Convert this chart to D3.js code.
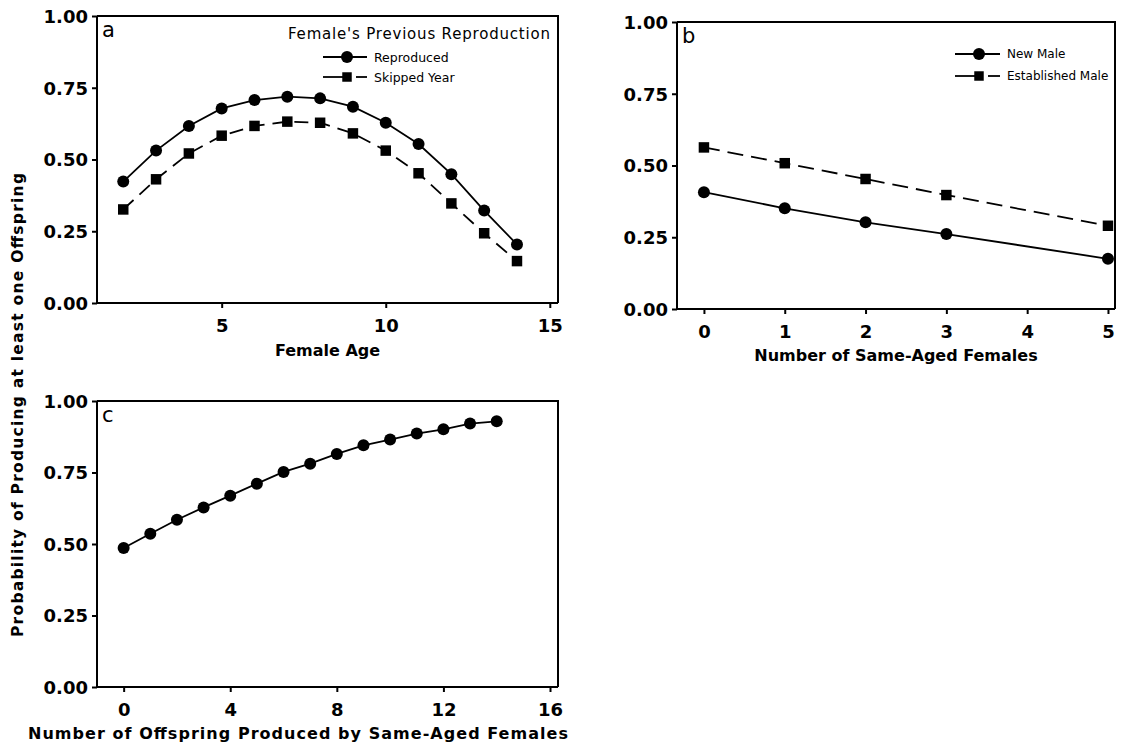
<!DOCTYPE html>
<html>
<head>
<meta charset="utf-8">
<script src="https://cdn.jsdelivr.net/npm/d3@7"></script>
<style>
  html, body { margin: 0; padding: 0; background: #fff; }
  svg { display: block; }
  text { font-family: "DejaVu Sans", Verdana, sans-serif; fill: #000; }
</style>
</head>
<body>
<svg id="chart" width="1123" height="744"></svg>
<script>
// ---- data ----
// Panel a: probability by female age, split by previous-year reproduction
const ageValues = [2, 3, 4, 5, 6, 7, 8, 9, 10, 11, 12, 13, 14];
const reproduced = [0.423, 0.531, 0.617, 0.678, 0.707, 0.719, 0.713, 0.684, 0.628, 0.554, 0.449, 0.322, 0.204];
const skippedYear = [0.326, 0.431, 0.521, 0.583, 0.617, 0.632, 0.628, 0.591, 0.531, 0.452, 0.347, 0.243, 0.146];
const ageTicks = [5, 10, 15];

// Panel b: probability by number of same-aged females, by male status
const femaleCounts = [0, 1, 2, 3, 5];
const newMale = [0.407, 0.351, 0.302, 0.261, 0.175];
const establishedMale = [0.563, 0.508, 0.453, 0.397, 0.290];
const femaleCountTicks = [0, 1, 2, 3, 4, 5];

// Panel c: probability by offspring produced by same-aged females
const offspringCounts = [0, 1, 2, 3, 4, 5, 6, 7, 8, 9, 10, 11, 12, 13, 14];
const offspringProb = [0.486, 0.536, 0.585, 0.628, 0.669, 0.711, 0.752, 0.781, 0.815, 0.845, 0.865, 0.886, 0.901, 0.921, 0.929];
const offspringTicks = [0, 4, 8, 12, 16];

const probTicks = [0, 0.25, 0.5, 0.75, 1];

const svg = d3.select("#chart");

const symCircle = d3.symbol().type(d3.symbolCircle).size(Math.PI * 36);
const symSquare = d3.symbol().type(d3.symbolSquare).size(110);

function drawPanel(cfg) {
  const x = d3.scaleLinear().domain(cfg.xDomain).range([cfg.left, cfg.right]);
  const y = d3.scaleLinear().domain([0, 1]).range([cfg.bottom, cfg.top]);
  const g = svg.append("g");

  // frame (top and right edges)
  g.append("path")
    .attr("d", `M${cfg.left},${cfg.top}H${cfg.right}V${cfg.bottom}`)
    .attr("fill", "none").attr("stroke", "#000").attr("stroke-width", 2);

  const xAxis = g.append("g")
    .attr("transform", `translate(0,${cfg.bottom})`)
    .call(d3.axisBottom(x).tickValues(cfg.xTicks).tickFormat(d3.format("d"))
      .tickSize(5).tickPadding(11));
  const yAxis = g.append("g")
    .attr("transform", `translate(${cfg.left},0)`)
    .call(d3.axisLeft(y).tickValues(probTicks).tickFormat(d3.format(".2f"))
      .tickSize(5).tickPadding(4));
  [xAxis, yAxis].forEach(a => {
    a.select(".domain").attr("stroke-width", 2)
      .attr("d", a === xAxis ? `M${cfg.left},0H${cfg.right}` : `M0,${cfg.top}V${cfg.bottom}`);
    a.selectAll(".tick line").attr("stroke-width", 2);
    a.selectAll(".tick text")
      .style("font-family", '"DejaVu Sans", Verdana, sans-serif')
      .style("font-size", "18px").style("font-weight", "bold");
  });
  yAxis.selectAll(".tick text").attr("dy", "0.36em");

  // panel letter
  g.append("text")
    .attr("x", cfg.left + 5).attr("y", cfg.top + 21)
    .style("font-size", "21px")
    .text(cfg.letter);

  // series
  cfg.series.forEach(s => {
    const pts = cfg.xs.map((v, i) => [v, s.values[i]]);
    const line = d3.line().x(d => x(d[0])).y(d => y(d[1]));
    g.append("path")
      .datum(pts)
      .attr("d", line)
      .attr("fill", "none").attr("stroke", "#000").attr("stroke-width", 1.8)
      .attr("stroke-dasharray", s.dash || null);
    g.selectAll(null).data(pts).enter().append("path")
      .attr("transform", d => `translate(${x(d[0])},${y(d[1])})`)
      .attr("d", s.shape === "square" ? symSquare() : symCircle())
      .attr("fill", "#000");
  });

  // x title
  const xt = g.append("text")
    .attr("x", cfg.xTitleX).attr("y", cfg.xTitleY)
    .attr("text-anchor", "middle")
    .style("font-size", "16px").style("font-weight", "bold")
    .text(cfg.xTitle);
  if (cfg.xTitleLength) xt.attr("textLength", cfg.xTitleLength).attr("lengthAdjust", "spacing");

  return { x, y, g };
}

const pa = drawPanel({
  letter: "a", left: 97, right: 558, top: 16, bottom: 303,
  xDomain: [1.2, 15.25], xTicks: ageTicks, xs: ageValues,
  series: [
    { values: reproduced, shape: "circle" },
    { values: skippedYear, shape: "square", dash: "14,8" }
  ],
  xTitle: "Female Age", xTitleX: 327.5, xTitleY: 356
});

const pb = drawPanel({
  letter: "b", left: 677, right: 1115, top: 22, bottom: 309,
  xDomain: [-1 / 3, 5.087], xTicks: femaleCountTicks, xs: femaleCounts,
  series: [
    { values: newMale, shape: "circle" },
    { values: establishedMale, shape: "square", dash: "16,8" }
  ],
  xTitle: "Number of Same-Aged Females", xTitleX: 896, xTitleY: 361
});

const pc = drawPanel({
  letter: "c", left: 97, right: 558, top: 401, bottom: 687,
  xDomain: [-1, 16.3], xTicks: offspringTicks, xs: offspringCounts,
  series: [{ values: offspringProb, shape: "circle" }],
  xTitle: "Number of Offspring Produced by Same-Aged Females",
  xTitleX: 298, xTitleY: 739, xTitleLength: 540
});

// legends
function legendItem(g, x0, x1, xm, yPos, shape, dash, label, fontSize) {
  if (dash) {
    g.append("line").attr("x1", x0).attr("x2", xm).attr("y1", yPos).attr("y2", yPos)
      .attr("stroke", "#000").attr("stroke-width", 1.8);
    g.append("line").attr("x1", xm + 9).attr("x2", x1).attr("y1", yPos).attr("y2", yPos)
      .attr("stroke", "#000").attr("stroke-width", 1.8);
  } else {
    g.append("line").attr("x1", x0).attr("x2", x1).attr("y1", yPos).attr("y2", yPos)
      .attr("stroke", "#000").attr("stroke-width", 1.8);
  }
  g.append("path").attr("transform", `translate(${xm},${yPos})`)
    .attr("d", shape === "square" ? d3.symbol().type(d3.symbolSquare).size(90)() : symCircle())
    .attr("fill", "#000");
  g.append("text").attr("x", x1 + 7).attr("y", yPos).attr("dy", "0.36em")
    .style("font-size", fontSize + "px").text(label);
}

const legA = svg.append("g");
legA.append("text").attr("x", 419).attr("y", 39).attr("text-anchor", "middle")
  .style("font-size", "15px").attr("textLength", 262).attr("lengthAdjust", "spacing")
  .text("Female's Previous Reproduction");
legendItem(legA, 323, 367, 347, 57, "circle", null, "Reproduced", 12.5);
legendItem(legA, 323, 367, 347, 77, "square", "dash", "Skipped Year", 12.5);

const legB = svg.append("g");
legendItem(legB, 955, 1000, 979, 54, "circle", null, "New Male", 12);
legendItem(legB, 955, 1000, 979, 76, "square", "dash", "Established Male", 12);

// shared y title
svg.append("text")
  .attr("transform", "translate(23,405) rotate(-90)")
  .attr("text-anchor", "middle")
  .style("font-size", "15.5px").style("font-weight", "bold")
  .attr("textLength", 464).attr("lengthAdjust", "spacing")
  .text("Probability of Producing at least one Offspring");
</script>
</body>
</html>
